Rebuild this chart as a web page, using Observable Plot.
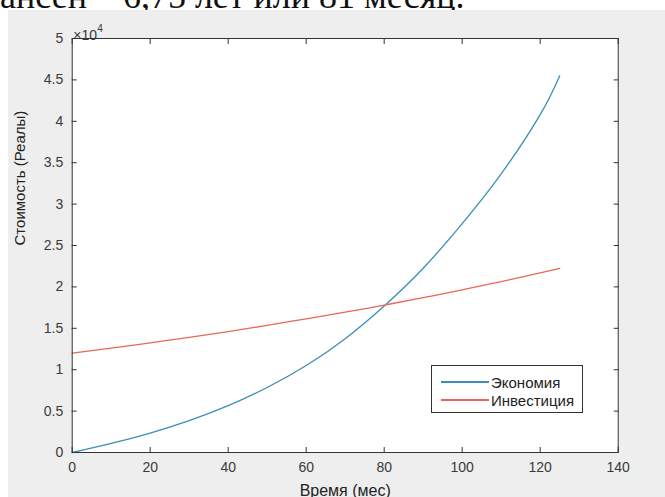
<!DOCTYPE html>
<html>
<head>
<meta charset="utf-8">
<script src="https://cdn.jsdelivr.net/npm/d3@7"></script>
<script src="https://cdn.jsdelivr.net/npm/@observablehq/plot@0.6"></script>
<style>
  body { margin: 0; background: #ffffff; font-family: "Liberation Sans", Arial, sans-serif; }
  #page { position: relative; width: 665px; height: 497px; overflow: hidden; background: #ffffff; }
  #toptext { position: absolute; left: 0px; top: -24px; font-family: "Liberation Serif", "Times New Roman", serif; font-size: 36px; white-space: nowrap; color: #111; line-height: 40px; }
  #fig { position: absolute; left: 8px; top: 10px; width: 657px; height: 487px; background: #eeeeee; }
  #fig svg { position: absolute; left: 0; top: 0; }
  #legend { position: absolute; left: 423px; top: 355px; width: 150px; height: 46px; background: #ffffff; border: 1px solid #333; box-sizing: content-box; }
  #legend .row { position: absolute; left: 0; height: 18px; display: flex; align-items: center; font-size: 15px; color: #222; white-space: nowrap; }
  #legend .sw { display: inline-block; width: 48px; height: 1.3px; margin-left: 9px; margin-right: 2px; }
</style>
</head>
<body>
<div id="page">
  <div id="toptext">ансен – 6,75 лет или 81 месяц.</div>
  <div id="fig"></div>
</div>
<script>
// ---- data ----
const months = [0, 10, 20, 30, 40, 50, 60, 70, 80, 90, 100, 110, 120, 125];
const economy = [0, 1100, 2350, 3850, 5650, 7850, 10500, 13750, 17700, 22250, 27650, 33650, 40800, 45500];
const investment = [12000, 12600, 13250, 13900, 14600, 15350, 16150, 16950, 17800, 18700, 19650, 20650, 21700, 22250];
const seriesNames = ["Экономия", "Инвестиция"];
const seriesColors = ["#3d8db5", "#e8675a"];
const xTicks = [0, 20, 40, 60, 80, 100, 120, 140];
const yTicks = [0, 5000, 10000, 15000, 20000, 25000, 30000, 35000, 40000, 45000, 50000];
const yTickLabels = ["0", "0.5", "1", "1.5", "2", "2.5", "3", "3.5", "4", "4.5", "5"];
const xLabel = "Время (мес)";
const yLabel = "Стоимость (Реалы)";
const yMultiplier = "×10";
const yExponent = "4";

const data = months.flatMap((m, i) => [
  {m, v: economy[i], s: seriesNames[0]},
  {m, v: investment[i], s: seriesNames[1]}
]);

const tickColor = "#333333";
const textColor = "#3a3a3a";

const chart = Plot.plot({
  width: 657,
  height: 487,
  marginLeft: 63.7,
  marginRight: 47.3,
  marginTop: 28,
  marginBottom: 45,
  x: {domain: [0, 140]},
  y: {domain: [0, 50000]},
  color: {domain: seriesNames, range: seriesColors},
  style: {background: "transparent", fontFamily: "'Liberation Sans', Arial, sans-serif", overflow: "visible"},
  marks: [
    Plot.frame({fill: "white", stroke: null}),
    Plot.line(data, {x: "m", y: "v", z: "s", stroke: "s", strokeWidth: 1.3, curve: "natural"}),
    // inward ticks on all four sides
    Plot.axisX(xTicks, {anchor: "bottom", tickSize: -5, tickFormat: () => "", label: null, stroke: tickColor}),
    Plot.axisX(xTicks, {anchor: "top", tickSize: -5, tickFormat: () => "", label: null, stroke: tickColor}),
    Plot.axisY(yTicks, {anchor: "left", tickSize: -5, tickFormat: () => "", label: null, stroke: tickColor}),
    Plot.axisY(yTicks, {anchor: "right", tickSize: -5, tickFormat: () => "", label: null, stroke: tickColor}),
    // tick labels
    Plot.axisX(xTicks, {anchor: "bottom", tickSize: 0, tickPadding: 10, fontSize: 14, fill: textColor, label: null}),
    Plot.axisY(yTicks, {anchor: "left", tickSize: 0, tickPadding: 9, fontSize: 14, fill: textColor, label: null,
      tickFormat: d => yTickLabels[yTicks.indexOf(d)]}),
    // exponent marker
    Plot.text([yMultiplier], {text: d => d, frameAnchor: "top-left", textAnchor: "start", dx: 1, dy: -8, fontSize: 14, fill: textColor}),
    Plot.text([yExponent], {text: d => d, frameAnchor: "top-left", textAnchor: "start", dx: 25, dy: -14, fontSize: 10, fill: textColor}),
    // axis titles
    Plot.text([xLabel], {text: d => d, frameAnchor: "bottom", dy: 43, fontSize: 16, fill: "#222"}),
    Plot.text([yLabel], {text: d => d, frameAnchor: "left", dx: -51.7, rotate: -90, fontSize: 15, fill: "#222"}),
    Plot.frame({stroke: "#333", strokeWidth: 1})
  ]
});

const fig = document.getElementById("fig");
fig.appendChild(chart);

// legend built from the series arrays
const legend = document.createElement("div");
legend.id = "legend";
seriesNames.forEach((name, i) => {
  const row = document.createElement("div");
  row.className = "row";
  row.style.top = (7 + i * 18) + "px";
  const sw = document.createElement("span");
  sw.className = "sw";
  sw.style.background = seriesColors[i];
  const label = document.createElement("span");
  label.textContent = name;
  row.appendChild(sw);
  row.appendChild(label);
  legend.appendChild(row);
});
fig.appendChild(legend);
</script>
</body>
</html>
